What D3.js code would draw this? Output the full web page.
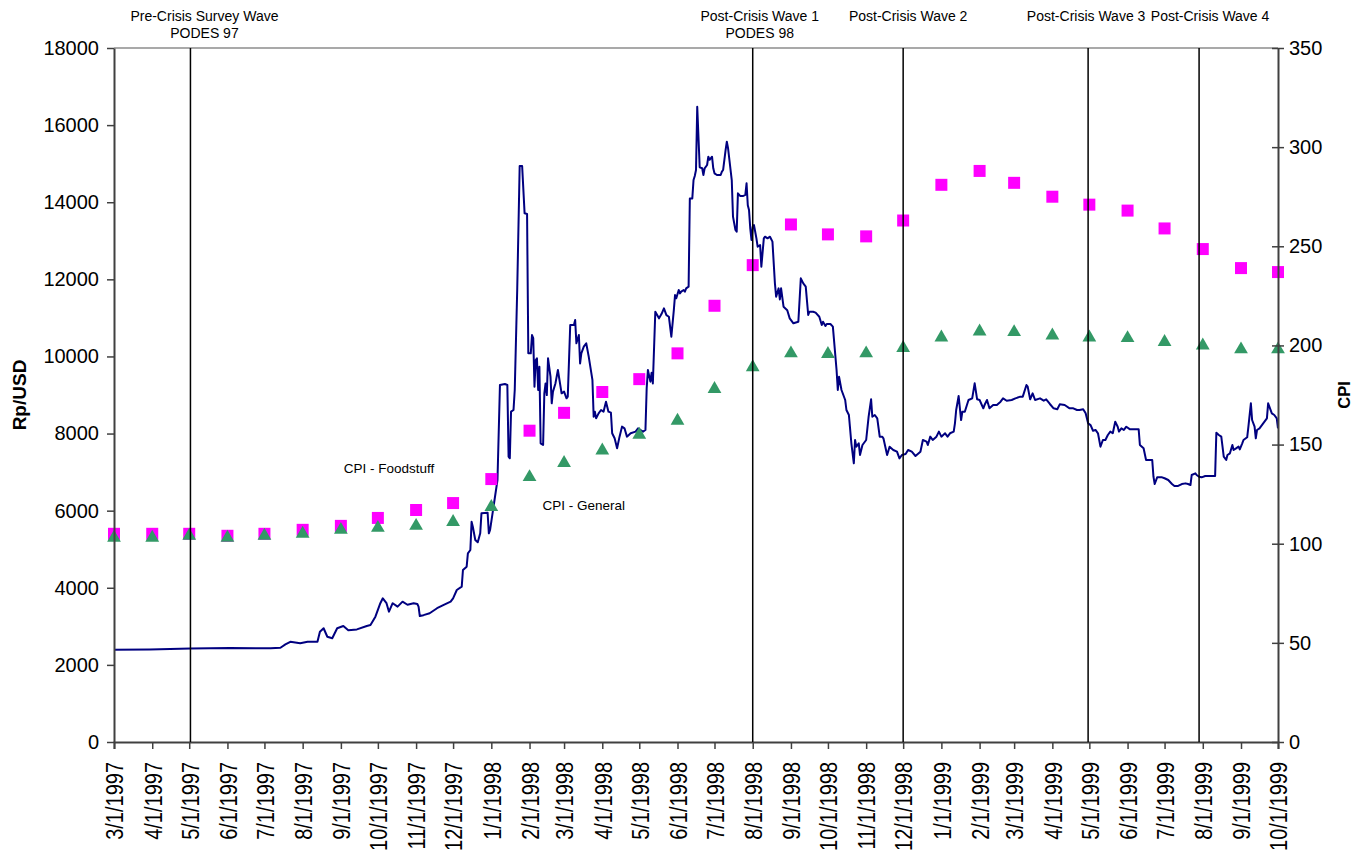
<!DOCTYPE html>
<html>
<head>
<meta charset="utf-8">
<script src="https://cdn.jsdelivr.net/npm/d3@7"></script>
<style>
body { margin: 0; background: #fff; }
svg text { font-family: "Liberation Sans", Arial, sans-serif; fill: #000; }
</style>
</head>
<body>
<svg id="chart"></svg>
<script>
const margin = {t: 48, r: 91, b: 108, l: 114};
const size = {w: 1369, h: 850};

//DATA
// monthly CPI points (right axis)
const cpiMonths = ['1997-03-01','1997-04-01','1997-05-01','1997-06-01','1997-07-01','1997-08-01',
    '1997-09-01','1997-10-01','1997-11-01','1997-12-01','1998-01-01','1998-02-01','1998-03-01',
    '1998-04-01','1998-05-01','1998-06-01','1998-07-01','1998-08-01','1998-09-01','1998-10-01',
    '1998-11-01','1998-12-01','1999-01-01','1999-02-01','1999-03-01','1999-04-01','1999-05-01',
    '1999-06-01','1999-07-01','1999-08-01','1999-09-01','1999-10-01'];
const cpiFood = [105, 105, 105, 104, 105, 107, 109, 113, 117, 120.5, 132.6, 157, 166,
    176.5, 183, 196, 220, 240.5, 261, 256, 255, 263, 281, 288, 282, 275, 271,
    268, 259, 248.6, 239, 237];
const cpiGeneral = [103, 103, 104, 103, 104, 105, 107, 108, 109, 111, 118.5, 133.6, 140.7,
    147, 155, 162, 178, 189, 196, 195.7, 196, 198.7, 204, 207, 206.7, 205, 204,
    203.7, 201.7, 200, 198, 198];

// rupiah per US dollar (left axis)
const rupiahRate = [
    ['1997-03-01',2395],['1997-03-30',2400],['1997-05-02',2425],['1997-06-03',2440],['1997-07-06',2430],
    ['1997-07-14',2445],['1997-07-18',2530],['1997-07-22',2600],['1997-07-30',2560],['1997-08-05',2600],
    ['1997-08-13',2600],['1997-08-15',2860],['1997-08-18',2950],['1997-08-21',2730],['1997-08-25',2690],
    ['1997-08-29',2950],['1997-09-03',3010],['1997-09-07',2900],['1997-09-14',2920],['1997-09-22',3010],
    ['1997-09-25',3035],['1997-09-29',3250],['1997-10-03',3600],['1997-10-05',3727],['1997-10-08',3600],
    ['1997-10-10',3380],['1997-10-13',3600],['1997-10-17',3510],['1997-10-21',3640],['1997-10-25',3560],
    ['1997-10-30',3600],['1997-11-02',3580],['1997-11-03',3510],['1997-11-04',3268],['1997-11-07',3290],
    ['1997-11-12',3340],['1997-11-18',3470],['1997-11-23',3550],['1997-11-29',3640],['1997-12-01',3727],
    ['1997-12-04',3942],['1997-12-08',4028],['1997-12-09',4461],['1997-12-12',4547],['1997-12-13',4894],
    ['1997-12-15',4980],['1997-12-16',5714],['1997-12-17',5584],['1997-12-19',5240],['1997-12-21',5180],
    ['1997-12-23',5412],['1997-12-24',5930],['1997-12-29',5947],['1997-12-30',5412],['1997-12-31',5500],
    ['1998-01-02',5930],['1998-01-03',6147],['1998-01-06',6795],['1998-01-08',9259],['1998-01-12',9285],
    ['1998-01-14',9259],['1998-01-15',7400],['1998-01-16',7358],['1998-01-17',8568],['1998-01-19',8611],
    ['1998-01-20',9130],['1998-01-22',11723],['1998-01-24',14940],['1998-01-26',14940],['1998-01-28',13712],
    ['1998-01-30',13695],['1998-01-31',10081],['1998-02-02',10081],['1998-02-03',10556],['1998-02-04',10478],
    ['1998-02-05',9215],['1998-02-06',9908],['1998-02-07',9950],['1998-02-08',9130],['1998-02-09',9735],
    ['1998-02-10',7747],['1998-02-12',7703],['1998-02-13',9044],['1998-02-14',9300],['1998-02-15',8997],
    ['1998-02-16',9950],['1998-02-18',9476],['1998-02-19',8785],['1998-02-20',9088],['1998-02-22',9300],
    ['1998-02-24',9648],['1998-02-27',9044],['1998-03-01',9088],['1998-03-03',8914],['1998-03-04',8958],
    ['1998-03-06',10815],['1998-03-09',10815],['1998-03-10',10945],['1998-03-11',10340],['1998-03-13',10556],
    ['1998-03-14',9820],['1998-03-15',10081],['1998-03-17',10254],['1998-03-19',10340],['1998-03-21',9994],
    ['1998-03-24',9390],['1998-03-25',8437],['1998-03-26',8567],['1998-03-27',8395],['1998-03-29',8524],
    ['1998-03-31',8611],['1998-04-02',8567],['1998-04-04',8826],['1998-04-06',8567],['1998-04-08',8541],
    ['1998-04-09',8007],['1998-04-11',7877],['1998-04-13',7617],['1998-04-15',7920],['1998-04-17',8180],
    ['1998-04-19',8136],['1998-04-21',7920],['1998-04-24',8007],['1998-04-28',8050],['1998-04-30',8136],
    ['1998-05-02',8093],['1998-05-04',8050],['1998-05-06',8093],['1998-05-07',9174],['1998-05-08',9648],
    ['1998-05-10',9346],['1998-05-11',9580],['1998-05-12',9300],['1998-05-14',11160],['1998-05-17',10988],
    ['1998-05-19',11100],['1998-05-21',11246],['1998-05-23',11072],['1998-05-25',11030],['1998-05-27',10513],
    ['1998-05-29',11196],['1998-05-30',11593],['1998-05-31',11507],['1998-06-02',11723],['1998-06-03',11636],
    ['1998-06-04',11680],['1998-06-06',11723],['1998-06-07',11680],['1998-06-08',11766],['1998-06-10',11810],
    ['1998-06-11',14099],['1998-06-13',14099],['1998-06-14',14576],['1998-06-15',14680],['1998-06-16',14836],
    ['1998-06-17',16477],['1998-06-19',14905],['1998-06-21',14880],['1998-06-22',14706],['1998-06-23',14880],
    ['1998-06-25',14966],['1998-06-26',15180],['1998-06-27',15100],['1998-06-29',15180],['1998-06-30',14880],
    ['1998-07-01',14750],['1998-07-03',14706],['1998-07-06',14706],['1998-07-07',14793],['1998-07-08',14836],
    ['1998-07-10',15350],['1998-07-11',15570],['1998-07-12',15400],['1998-07-15',14576],['1998-07-16',13625],
    ['1998-07-18',13280],['1998-07-19',13237],['1998-07-20',14230],['1998-07-22',14160],['1998-07-24',14160],
    ['1998-07-26',14190],['1998-07-27',14490],['1998-07-28',13920],['1998-07-29',13798],['1998-07-30',13323],
    ['1998-07-31',13020],['1998-08-01',13365],['1998-08-02',13410],['1998-08-04',13063],['1998-08-05',12846],
    ['1998-08-07',12890],['1998-08-08',12327],['1998-08-10',13063],['1998-08-11',13106],['1998-08-13',13063],
    ['1998-08-15',13106],['1998-08-17',12977],['1998-08-19',11896],['1998-08-20',11549],['1998-08-22',11766],
    ['1998-08-23',11480],['1998-08-24',11766],['1998-08-26',11290],['1998-08-29',11200],['1998-08-31',10988],
    ['1998-09-03',10859],['1998-09-07',10900],['1998-09-09',12025],['1998-09-11',11895],['1998-09-13',11810],
    ['1998-09-15',11075],['1998-09-16',11160],['1998-09-19',11160],['1998-09-21',11135],['1998-09-24',11030],
    ['1998-09-26',10815],['1998-09-27',10900],['1998-09-29',10790],['1998-09-30',10841],['1998-10-03',10841],
    ['1998-10-05',10772],['1998-10-08',9648],['1998-10-09',9130],['1998-10-10',9474],['1998-10-12',9130],
    ['1998-10-15',8870],['1998-10-16',8611],['1998-10-18',8481],['1998-10-20',7747],['1998-10-22',7228],
    ['1998-10-23',7833],['1998-10-24',7660],['1998-10-26',7747],['1998-10-27',7444],['1998-10-29',7703],
    ['1998-11-01',7833],['1998-11-03',8437],['1998-11-05',8888],['1998-11-06',8437],['1998-11-08',8481],
    ['1998-11-10',8394],['1998-11-12',7918],['1998-11-14',7918],['1998-11-15',7876],['1998-11-18',7444],
    ['1998-11-20',7659],['1998-11-23',7574],['1998-11-26',7530],['1998-11-28',7357],['1998-11-30',7444],
    ['1998-12-03',7470],['1998-12-05',7574],['1998-12-08',7530],['1998-12-11',7418],['1998-12-15',7530],
    ['1998-12-17',7833],['1998-12-20',7790],['1998-12-21',7703],['1998-12-23',7920],['1998-12-25',7833],
    ['1998-12-28',7920],['1998-12-30',8050],['1999-01-01',7920],['1999-01-04',8007],['1999-01-06',7920],
    ['1999-01-08',8007],['1999-01-11',8050],['1999-01-12',8266],['1999-01-13',8611],['1999-01-15',8974],
    ['1999-01-17',8351],['1999-01-18',8567],['1999-01-20',8567],['1999-01-23',8870],['1999-01-26',8914],
    ['1999-01-28',9303],['1999-01-30',8888],['1999-02-01',8870],['1999-02-04',8655],['1999-02-05',8740],
    ['1999-02-07',8870],['1999-02-09',8655],['1999-02-12',8740],['1999-02-15',8740],['1999-02-18',8826],
    ['1999-02-20',8914],['1999-02-23',8850],['1999-02-27',8870],['1999-03-02',8913],['1999-03-06',8957],
    ['1999-03-08',8957],['1999-03-11',9259],['1999-03-12',9217],['1999-03-14',8888],['1999-03-16',9044],
    ['1999-03-18',8870],['1999-03-22',8913],['1999-03-25',8853],['1999-03-27',8888],['1999-03-30',8767],
    ['1999-04-02',8655],['1999-04-05',8629],['1999-04-07',8758],['1999-04-11',8740],['1999-04-15',8655],
    ['1999-04-18',8655],['1999-04-21',8611],['1999-04-23',8611],['1999-04-26',8629],['1999-04-28',8524],
    ['1999-04-30',8265],['1999-05-02',8220],['1999-05-04',8073],['1999-05-06',8093],['1999-05-08',8007],
    ['1999-05-10',7660],['1999-05-12',7833],['1999-05-14',7833],['1999-05-16',7963],['1999-05-18',8050],
    ['1999-05-20',8007],['1999-05-22',8308],['1999-05-24',8178],['1999-05-25',8050],['1999-05-27',8136],
    ['1999-05-29',8093],['1999-05-31',8178],['1999-06-03',8110],['1999-06-10',8110],['1999-06-11',7703],
    ['1999-06-14',7617],['1999-06-16',7314],['1999-06-21',7314],['1999-06-22',6881],['1999-06-23',6691],
    ['1999-06-25',6865],['1999-06-29',6865],['1999-07-01',6840],['1999-07-04',6795],['1999-07-07',6691],
    ['1999-07-09',6640],['1999-07-12',6640],['1999-07-15',6691],['1999-07-18',6708],['1999-07-20',6691],
    ['1999-07-22',6665],['1999-07-23',6925],['1999-07-26',6968],['1999-07-27',6925],['1999-07-29',6881],
    ['1999-07-31',6865],['1999-08-03',6900],['1999-08-11',6900],['1999-08-12',8023],['1999-08-14',7963],
    ['1999-08-16',7920],['1999-08-17',7660],['1999-08-18',7400],['1999-08-20',7314],['1999-08-21',7444],
    ['1999-08-23',7487],['1999-08-25',7703],['1999-08-26',7574],['1999-08-28',7617],['1999-08-30',7660],
    ['1999-08-31',7590],['1999-09-02',7747],['1999-09-03',7833],['1999-09-06',7903],['1999-09-07',8180],
    ['1999-09-09',8783],['1999-09-10',8351],['1999-09-12',8180],['1999-09-13',7876],['1999-09-14',8093],
    ['1999-09-16',8136],['1999-09-19',8266],['1999-09-22',8395],['1999-09-23',8783],['1999-09-24',8697],
    ['1999-09-26',8524],['1999-09-28',8481],['1999-09-30',8395],['1999-10-01',8136]
];

// survey waves (vertical lines + header labels)
const waveDates = ['1997-05-02', '1998-08-01', '1998-12-01', '1999-04-30', '1999-07-29'];
const waveLabels = [
    ['Pre-Crisis Survey Wave', 'PODES 97'],
    ['Post-Crisis Wave 1', 'PODES 98'],
    ['Post-Crisis Wave 2'],
    ['Post-Crisis Wave 3'],
    ['Post-Crisis Wave 4']
];

// series names written inside the plot
const seriesNames = ['CPI - Foodstuff', 'CPI - General'];
const seriesNameAt = [['1997-10-10', 138], ['1998-03-17', 119.5]];

const leftTicks = d3.range(0, 18001, 2000);
const rightTicks = d3.range(0, 351, 50);

//--------SETUP--------
const parseDate = d3.utcParse('%Y-%m-%d');
const svg = d3.select('svg#chart')
    .attr('width', size.w)
    .attr('height', size.h);

const w = size.w - margin.l - margin.r;
const h = size.h - margin.t - margin.b;

const containerG = svg.append('g')
    .attr('transform', `translate(${margin.l}, ${margin.t})`);

const x = d3.scaleUtc()
    .domain([parseDate('1997-03-01'), parseDate('1999-10-01')])
    .range([0, w]);
const yLeft = d3.scaleLinear().domain([0, 18000]).range([h, 0]);
const yRight = d3.scaleLinear().domain([0, 350]).range([h, 0]);

const axisColor = '#404040';

//TOP BORDER
containerG.append('line')
    .attr('x1', 0).attr('x2', w)
    .attr('y1', 0).attr('y2', 0)
    .attr('stroke', '#8c8c8c')
    .attr('stroke-width', 1.5);

//EXCHANGE RATE LINE
const rateLine = d3.line()
    .x(d => x(parseDate(d[0])))
    .y(d => yLeft(d[1]));

containerG.append('path')
    .datum(rupiahRate)
    .attr('d', rateLine)
    .attr('fill', 'none')
    .attr('stroke', '#000080')
    .attr('stroke-width', 2)
    .attr('stroke-linejoin', 'round');

//CPI MARKERS
const cpiG = containerG.append('g');
cpiG.selectAll('path.food')
    .data(cpiMonths.map((m, i) => [m, cpiFood[i]]))
    .join('path')
    .classed('food', true)
    .attr('d', d3.symbol(d3.symbolSquare, 144))
    .attr('transform', d => `translate(${x(parseDate(d[0]))}, ${yRight(d[1])})`)
    .attr('fill', '#ff00ff');

cpiG.selectAll('path.gen')
    .data(cpiMonths.map((m, i) => [m, cpiGeneral[i]]))
    .join('path')
    .classed('gen', true)
    .attr('d', d3.symbol(d3.symbolTriangle, 82))
    .attr('transform', d => `translate(${x(parseDate(d[0]))}, ${yRight(d[1])})`)
    .attr('fill', '#339966');

//SERIES NAMES
containerG.selectAll('text.series')
    .data(seriesNames)
    .join('text')
    .classed('series', true)
    .attr('x', (d, i) => x(parseDate(seriesNameAt[i][0])))
    .attr('y', (d, i) => yRight(seriesNameAt[i][1]))
    .attr('dy', '0.35em')
    .style('text-anchor', 'middle')
    .style('font-size', '13.5px')
    .text(d => d);

//AXES
const xAxis = d3.axisBottom(x)
    .ticks(d3.utcMonth.every(1))
    .tickFormat(d3.utcFormat('%-m/%-d/%Y'))
    .tickSizeOuter(0)
    .tickSize(7);

const xG = containerG.append('g')
    .attr('transform', `translate(0, ${h})`)
    .call(xAxis);
// excel draws these labels a little taller than wide
xG.selectAll('text')
    .attr('transform', 'rotate(-90) scale(1, 1.22)')
    .attr('x', -20)
    .attr('y', 0)
    .attr('dy', '0.36em')
    .style('text-anchor', 'end')
    .style('font-size', '20px');

const leftG = containerG.append('g')
    .call(d3.axisLeft(yLeft).tickValues(leftTicks).tickFormat(d3.format('d'))
        .tickSize(7).tickPadding(8).tickSizeOuter(0));
leftG.selectAll('text').style('font-size', '20px');

const rightG = containerG.append('g')
    .attr('transform', `translate(${w}, 0)`)
    .call(d3.axisRight(yRight).tickValues(rightTicks).tickSize(6).tickPadding(5).tickSizeOuter(0));
rightG.selectAll('text').style('font-size', '20px');
// right ticks cross the axis line
rightG.selectAll('.tick line').attr('x1', -6);

[xG, leftG, rightG].forEach(g => {
    g.select('.domain').attr('stroke', axisColor).attr('stroke-width', 2);
    g.selectAll('.tick line').attr('stroke', axisColor).attr('stroke-width', 1.5);
    g.attr('font-family', null);
});

//AXIS TITLES
svg.append('text')
    .attr('transform', `translate(26, ${margin.t + h / 2}) rotate(-90)`)
    .style('text-anchor', 'middle')
    .style('font-weight', 'bold')
    .style('font-size', '19px')
    .text('Rp/USD');

svg.append('text')
    .attr('transform', `translate(1350, ${margin.t + h / 2}) rotate(-90)`)
    .style('text-anchor', 'middle')
    .style('font-weight', 'bold')
    .style('font-size', '16.5px')
    .text('CPI');

//SURVEY WAVE LINES
const labelShift = [14, 7, 5, -2, 11];
const waveG = containerG.append('g')
    .selectAll('g')
    .data(waveDates)
    .join('g')
    .attr('transform', d => `translate(${x(parseDate(d))}, 0)`);

waveG.append('line')
    .attr('y1', 0).attr('y2', h)
    .attr('stroke', '#000')
    .attr('stroke-width', 1.5);

waveG.append('text')
    .attr('x', (d, i) => labelShift[i])
    .attr('y', -27)
    .style('text-anchor', 'middle')
    .style('font-size', '14px')
    .selectAll('tspan')
    .data((d, i) => waveLabels[i])
    .join('tspan')
    .attr('x', function() { return this.parentNode.getAttribute('x'); })
    .attr('dy', (d, j) => j === 0 ? 0 : 17)
    .text(d => d);
</script>
</body>
</html>
